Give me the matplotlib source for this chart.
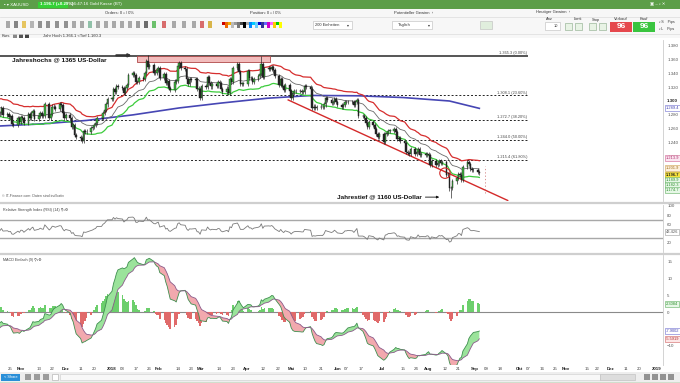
import numpy as np
import pandas as pd
import matplotlib
matplotlib.use("Agg")
import matplotlib.pyplot as plt
import matplotlib.dates as mdates
import matplotlib.transforms as mtransforms
from matplotlib.patches import Rectangle, Ellipse

plt.rcParams["font.family"] = ["Liberation Sans", "DejaVu Sans"]

# daily closes, one row per week (Mon-Fri), starting Mon 18 Sep 2017
closes = [
    1310, 1311, 1300, 1292, 1297,
    1311, 1294, 1284, 1287, 1280,
    1271, 1274, 1274, 1267, 1275,
    1286, 1292, 1288, 1294, 1303,
    1304, 1282, 1283, 1290, 1280,
    1281, 1277, 1278, 1267, 1266,
    1275, 1270, 1277, 1276, 1269,
    1281, 1275, 1282, 1286, 1274,
    1278, 1282, 1279, 1278, 1295,
    1275, 1281, 1292, 1291, 1288,
    1295, 1294, 1283, 1275, 1280,
    1275, 1262, 1265, 1251, 1248,
    1246, 1242, 1257, 1255, 1256,
    1261, 1263, 1266, 1268, 1275,
    1275, 1283, 1287, 1295, 1303,
    1303, 1317, 1313, 1322, 1320,
    1319, 1312, 1319, 1323, 1338,
    1340, 1337, 1327, 1327, 1333,
    1332, 1340, 1357, 1349, 1352,
    1341, 1340, 1345, 1348, 1333,
    1339, 1326, 1329, 1319, 1316,
    1328, 1329, 1350, 1355, 1348,
    1346, 1331, 1324, 1331, 1330,
    1332, 1318, 1317, 1305, 1322,
    1320, 1335, 1326, 1321, 1324,
    1322, 1327, 1326, 1317, 1313,
    1318, 1312, 1332, 1328, 1347,
    1353, 1342, 1325, 1325, 1325,
    1343, 1333, 1333, 1327, 1332,
    1336, 1339, 1353, 1334, 1346,
    1347, 1346, 1349, 1344, 1336,
    1323, 1332, 1322, 1316, 1323,
    1315, 1305, 1311, 1314, 1315,
    1314, 1313, 1313, 1321, 1320,
    1318, 1290, 1292, 1290, 1291,
    1292, 1291, 1295, 1304, 1302,
    1297, 1299, 1303, 1299, 1294,
    1292, 1294, 1298, 1298, 1299,
    1298, 1294, 1298, 1302, 1278,
    1278, 1275, 1269, 1262, 1270,
    1266, 1259, 1253, 1248, 1252,
    1241, 1253, 1254, 1257, 1257,
    1259, 1255, 1245, 1246, 1242,
    1240, 1227, 1225, 1224, 1231,
    1224, 1226, 1231, 1222, 1223,
    1222, 1224, 1222, 1208, 1213,
    1208, 1210, 1213, 1211, 1212,
    1193, 1194, 1174, 1175, 1184,
    1189, 1195, 1194, 1186, 1205,
    1212, 1209, 1202, 1200, 1201,
    1198, 1196.7,
]
extreme_highs = {"2018-01-25": 1366.1, "2018-04-11": 1365.3}
extreme_lows = {"2018-08-16": 1160.3}

ma200_dates = ["2017-10-18", "2017-11-15", "2017-12-15", "2018-01-15", "2018-02-15",
               "2018-03-15", "2018-04-15", "2018-05-15", "2018-06-15", "2018-07-15",
               "2018-08-15", "2018-09-04"]
ma200_vals = [1264, 1267, 1272, 1280, 1290, 1297, 1304, 1308, 1307.5, 1305, 1300, 1289.4]

fib_levels = [1365.3, 1308.1, 1272.7, 1244.0, 1215.4]
fib_pcts = ["0.00%", "23.60%", "38.20%", "50.00%", "61.80%"]

tick_dates = ["2017-10-25", "2017-11-01", "2017-11-13", "2017-11-22", "2017-12-01", "2017-12-11",
              "2017-12-20", "2018-01-01", "2018-01-08", "2018-01-17", "2018-01-26", "2018-02-01",
              "2018-02-14", "2018-02-23", "2018-03-01", "2018-03-14", "2018-03-23", "2018-04-01",
              "2018-04-12", "2018-04-22", "2018-05-01", "2018-05-10", "2018-05-21", "2018-06-01",
              "2018-06-07", "2018-06-17", "2018-07-01", "2018-07-15", "2018-07-24", "2018-08-01",
              "2018-08-12", "2018-08-21", "2018-09-01", "2018-09-09", "2018-09-18", "2018-10-01",
              "2018-10-07", "2018-10-16", "2018-10-25", "2018-11-01", "2018-11-15", "2018-11-22",
              "2018-12-01", "2018-12-11", "2018-12-20", "2019-01-01"]
tick_labels = ["25", "Nov", "13", "22", "Dez", "11", "20", "2018", "08", "17", "26", "Feb",
               "14", "23", "Mär", "14", "23", "Apr", "12", "22", "Mai", "10", "21", "Jun",
               "07", "17", "Jul", "15", "24", "Aug", "12", "21", "Sep", "09", "18", "Okt",
               "07", "16", "25", "Nov", "15", "22", "Dez", "11", "20", "2019"]

# ---- indicators -----------------------------------------------------------
dates = pd.bdate_range("2017-09-18", periods=len(closes))
s = pd.Series(closes, index=dates, dtype=float)
opens = s.shift(1).fillna(s.iloc[0])
ema20 = s.ewm(span=20, adjust=False).mean()
upper, lower = ema20 * 1.01, ema20 * 0.99
delta = s.diff()
gain = delta.clip(lower=0).ewm(alpha=1 / 14, adjust=False).mean()
loss = (-delta.clip(upper=0)).ewm(alpha=1 / 14, adjust=False).mean()
rsi = 100 - 100 / (1 + gain / loss)
macd = s.ewm(span=12, adjust=False).mean() - s.ewm(span=26, adjust=False).mean()
signal = macd.ewm(span=9, adjust=False).mean()
hist = macd - signal

x = mdates.date2num(dates)
hi = np.maximum(opens, s) + 3
lo = np.minimum(opens, s) - 3
for d, v in extreme_highs.items():
    hi[pd.Timestamp(d)] = v
for d, v in extreme_lows.items():
    lo[pd.Timestamp(d)] = v

# ---- figure ----------------------------------------------------------------
W, H = 680, 383
fig = plt.figure(figsize=(W / 100, H / 100), dpi=100)


def add_ax(x0, y0, x1, y1):
    return fig.add_axes([x0 / W, 1 - y1 / H, (x1 - x0) / W, (y1 - y0) / H])


def rect(x0, y0, x1, y1, **kw):
    fig.add_artist(Rectangle((x0 / W, 1 - y1 / H), (x1 - x0) / W, (y1 - y0) / H,
                             transform=fig.transFigure, **kw))


def ftext(xp, yp, t, **kw):
    kw.setdefault("fontsize", 3.4)
    kw.setdefault("va", "center")
    kw.setdefault("color", "#333333")
    fig.text(xp / W, 1 - yp / H, t, **kw)


def hline(y, x0=0, x1=W, **kw):
    fig.add_artist(plt.Line2D([x0 / W, x1 / W], [1 - y / H, 1 - y / H],
                              transform=fig.transFigure, **kw))


# header
rect(0, 0, 680, 9, color="#5c9e48", lw=0)
ftext(4, 4.5, "▪ ▾ XAUUSD", color="white", fontsize=3.2)
rect(38, 1.5, 68, 7.5, color="#35d235", lw=0)
ftext(40, 4.5, "1.196.7 (+0.29%)", color="white", fontsize=3.2, fontweight="bold")
ftext(71, 4.5, "16:47:16 Gold Kasse (BT)", color="white", fontsize=3.2)
ftext(665, 4.5, "▣ – ▫ ✕", color="white", fontsize=3.2, ha="right")
rect(0, 9, 680, 38, color="#f7f7f7", lw=0)
hline(16.5, color="#dddddd", lw=0.5)
hline(33.5, color="#dddddd", lw=0.5)
ftext(105, 12.5, "Orders: 0 ▫ / 0%", fontsize=3.0)
ftext(250, 12.5, "Position: 0 ▫ / 0%", fontsize=3.0)
ftext(394, 12.5, "Potentieller Gewinn  ›", fontsize=3.0)
ftext(536, 12.5, "Heutiger Gewinn  ›", fontsize=3.0)
icon_x = [6, 14, 22, 30, 38, 46, 55, 64, 72, 80, 88, 96, 104, 112, 120, 128, 136, 144, 152, 162, 172, 182, 192, 200, 208]
icon_c = ["#888", "#555", "#e0b020", "#999", "#666", "#666", "#666", "#666", "#888", "#888",
          "#6a8", "#888", "#888", "#888", "#888", "#888", "#777", "#333", "#3a3", "#c33",
          "#888", "#888", "#888", "#c33", "#c90"]
for xi, ci in zip(icon_x, icon_c):
    rect(xi, 21, xi + 4, 28, color=ci, lw=0, alpha=0.7)
pal = ["#c00", "#e60", "#ea0", "#bbb", "#999", "#777", "#444", "#000", "#aaa", "#08f",
       "#0cf", "#6cf", "#00c", "#339", "#66f", "#c0c", "#f6f", "#fc0", "#0c0", "#ff0"]
for i, c in enumerate(pal):
    rect(222 + i * 3, 22, 225 + i * 3, 25 + (i % 2) * 3, color=c, lw=0)
rect(313, 21, 352, 29, facecolor="white", edgecolor="#bbbbbb", lw=0.4)
ftext(315, 25, "200 Einheiten", fontsize=2.9)
ftext(349, 25, "▾", fontsize=2.8, ha="right")
rect(392, 21, 432, 29, facecolor="white", edgecolor="#bbbbbb", lw=0.4)
ftext(398, 25, "Täglich", fontsize=2.9)
ftext(430, 25, "▾", fontsize=2.8, ha="right")
rect(480, 21, 492, 29, facecolor="#e0eedd", edgecolor="#bbbbbb", lw=0.4)
ftext(546, 19.5, "Anz", fontsize=2.9)
rect(545, 22, 560, 30, facecolor="white", edgecolor="#bbbbbb", lw=0.4)
ftext(558, 26, "10", fontsize=2.8, ha="right")
ftext(574, 19.5, "Limit", fontsize=2.9)
ftext(592, 19.5, "Stop", fontsize=2.9)
for xi in [565, 575, 589, 599]:
    rect(xi, 23, xi + 7, 30, facecolor="#e8f3e5", edgecolor="#88aa88", lw=0.4)
ftext(614, 19.5, "Verkauf", fontsize=2.9)
ftext(640, 19.5, "Kauf", fontsize=2.9)
rect(610, 22, 632, 32, color="#e5484d", lw=0)
ftext(621, 27, "96", color="white", fontsize=6, ha="center", fontweight="bold")
rect(633, 22, 655, 32, color="#39c43f", lw=0)
ftext(644, 27, "96", color="white", fontsize=6, ha="center", fontweight="bold")
ftext(659, 22, "▫ S    Pips", fontsize=2.6)
ftext(659, 29, "▫ L    Pips", fontsize=2.6)
ftext(2, 36, "Kurs", fontsize=3.0)
rect(13, 34, 17, 38, color="#888", lw=0)
rect(19, 34, 23, 38, color="#555", lw=0)
rect(25, 34, 29, 38, color="#444", lw=0)
ftext(43, 36, "Jahr Hoch 1.366.1 <Tief 1.160.3", fontsize=3.0)

# ---- panels ----------------------------------------------------------------
ax = add_ax(0, 40, 663, 201)
ax_rsi = add_ax(0, 205, 663, 252)
ax_macd = add_ax(0, 255, 663, 365)
x_left = mdates.date2num(pd.Timestamp("2017-10-18"))
x_right = mdates.date2num(pd.Timestamp("2019-01-05"))

for a in (ax, ax_rsi, ax_macd):
    a.set_xlim(x_left, x_right)
    a.set_facecolor("white")
    for sp in ("top", "left", "bottom"):
        a.spines[sp].set_visible(False)
    a.spines["right"].set_color("#cccccc")
    a.spines["right"].set_linewidth(0.6)
    a.yaxis.tick_right()
    a.tick_params(axis="y", labelsize=3.2, length=0, pad=3, colors="#555555")
    a.tick_params(axis="x", length=0)
    a.set_xticks([])

hline(202.5, color="#cfcfcf", lw=1.6)
hline(253.5, color="#cfcfcf", lw=1.6)

# price panel
ax.set_ylim(1155.9, 1387.9)
ax.set_yticks(range(1220, 1381, 20))
ax.set_yticklabels([f"{v / 1000:.3f}" for v in range(1220, 1381, 20)])
for lab in ax.get_yticklabels():
    if lab.get_text() == "1.300":
        lab.set_fontweight("bold")
        lab.set_color("#222222")

fib_end = mdates.date2num(pd.Timestamp("2018-10-06"))
for lvl, pct in zip(fib_levels, fib_pcts):
    if pct == "0.00%":
        ax.plot([x_left, fib_end], [lvl, lvl], color="#555555", lw=1.4, zorder=1)
    else:
        ax.plot([x_left, fib_end], [lvl, lvl], color="#222222", lw=0.7, ls=(0, (2, 2)), zorder=1)
    ax.text(fib_end, lvl + 1.2, f"{lvl:,.1f}".replace(",", ".") + f" ({pct})",
            fontsize=2.8, color="#444444", ha="right", va="bottom")

ax.add_patch(Rectangle((mdates.date2num(pd.Timestamp("2018-01-18")), 1356.7),
                       88.5, 8.6, facecolor="#f2bcbc", edgecolor="#b04848", lw=0.6, zorder=2))

ma_x = mdates.date2num(pd.to_datetime(ma200_dates))
ax.plot(ma_x, ma200_vals, color="#4646b4", lw=1.2, zorder=3)
ax.plot(x, upper, color="#d62e2e", lw=0.9, zorder=3)
ax.plot(x, ema20, color="#6a6a6a", lw=0.6, zorder=3)
ax.plot(x, lower, color="#3ccc3c", lw=0.9, zorder=3)

up = s >= opens
body_lo = np.minimum(opens, s)
body_h = np.maximum(np.abs(s - opens), 0.8)
ax.vlines(x, lo, hi, color="#1a1a1a", lw=0.45, zorder=4)
ax.bar(x[up.values], body_h[up.values], bottom=body_lo[up.values], width=1.1,
       color="#3fb83f", edgecolor="#1a1a1a", lw=0.3, zorder=5)
ax.bar(x[~up.values], body_h[~up.values], bottom=body_lo[~up.values], width=1.1,
       color="#262626", edgecolor="#1a1a1a", lw=0.3, zorder=5)

# trend line and markers
tl_x = mdates.date2num(pd.to_datetime(["2018-04-29", "2018-09-23"]))
ax.plot(tl_x, [1301.5, 1156.7], color="#d42a2a", lw=1.0, zorder=3)
ax.add_patch(Ellipse((mdates.date2num(pd.Timestamp("2018-08-12")), 1196), 7, 15,
                     facecolor="none", edgecolor="#d42a2a", lw=0.8, zorder=6))
ax.plot([mdates.date2num(pd.Timestamp("2018-09-08"))] * 2, [1168, 1206],
        color="#d08080", lw=0.6, ls=(0, (1.5, 2.5)), zorder=3)

ax.text(mdates.date2num(pd.Timestamp("2017-10-26")), 1363.2, "Jahreshochs @ 1365 US-Dollar",
        fontsize=4.6, fontweight="bold", color="#111111", va="top")
ax.annotate("", xy=(mdates.date2num(pd.Timestamp("2018-01-16")), 1365.8),
            xytext=(mdates.date2num(pd.Timestamp("2018-01-02")), 1365.8),
            arrowprops=dict(arrowstyle="-|>", color="#333333", lw=1.6, mutation_scale=3.5))
ax.text(mdates.date2num(pd.Timestamp("2018-06-01")), 1161.5, "Jahrestief @ 1160 US-Dollar",
        fontsize=4.6, fontweight="bold", color="#111111", va="center")
ax.annotate("", xy=(mdates.date2num(pd.Timestamp("2018-08-10")), 1161.5),
            xytext=(mdates.date2num(pd.Timestamp("2018-07-28")), 1161.5),
            arrowprops=dict(arrowstyle="-|>", color="#111111", lw=0.6, mutation_scale=3.5))
ax.text(0.003, 0.02, "© IT-Finance.com: Daten sind indikativ", transform=ax.transAxes,
        fontsize=2.6, color="#555555", va="bottom")

tr = mtransforms.blended_transform_factory(ax.transAxes, ax.transData)


def value_box(a, trans, y, txt, fc, ec, tc="#333333", bold=False):
    a.text(1.004, y, txt, transform=trans, fontsize=2.9, color=tc, va="center", ha="left",
           fontweight="bold" if bold else "normal", clip_on=False,
           bbox=dict(boxstyle="square,pad=0.25", fc=fc, ec=ec, lw=0.4))


def fmt(v):
    return f"{v:,.1f}".replace(",", ".")


value_box(ax, tr, ma200_vals[-1], fmt(ma200_vals[-1]), "white", "#6b6bd0", "#4646b4")
value_box(ax, tr, upper.iloc[-1] + 4, fmt(upper.iloc[-1]), "#fbe6f0", "#d06090", "#b03070")
value_box(ax, tr, ema20.iloc[-1] + 1, fmt(ema20.iloc[-1]), "#fdf0dc", "#d0a050", "#a07020")
value_box(ax, tr, s.iloc[-1] - 4, fmt(s.iloc[-1]), "#f6e23c", "#c0a000", "#222222", bold=True)
value_box(ax, tr, lower.iloc[-1] - 4, fmt(lower.iloc[-1]), "#e6f7e6", "#60b060", "#2f8f2f")
value_box(ax, tr, lower.iloc[-1] - 11, fmt(ma200_vals[-1] - 107.1), "#e6f7e6", "#60b060", "#2f8f2f")
value_box(ax, tr, lower.iloc[-1] - 18, fmt(extreme_lows["2018-08-16"] + 14.4), "#e6f7e6", "#60b060", "#2f8f2f")

# RSI panel
ax_rsi.set_ylim(-1.6, 102.2)
ax_rsi.set_yticks([100, 80, 60, 20])
for lvl in (70, 30):
    ax_rsi.axhline(lvl, color="#a8a8a8", lw=1.0)
ax_rsi.plot(x, rsi, color="#7a7a7a", lw=0.6)
ax_rsi.text(0.004, 0.93, "Relative Strength Index (RSI) (14) ⚲▫⚙", transform=ax_rsi.transAxes,
            fontsize=2.7, color="#444444", va="top")
tr_rsi = mtransforms.blended_transform_factory(ax_rsi.transAxes, ax_rsi.transData)
value_box(ax_rsi, tr_rsi, rsi.iloc[-1], f"{rsi.iloc[-1]:.3f}", "white", "#999999", "#555555")

# MACD panel
ax_macd.set_ylim(-15.6, 16.8)
ax_macd.set_yticks([15, 10, 5, 0, -10])
ax_macd.axhline(0, color="#8a8a8a", lw=0.8, zorder=1)
pos = hist.values >= 0
ax_macd.bar(x[pos], hist.values[pos], width=1.0, color="#6ccf6c", lw=0, zorder=2)
ax_macd.bar(x[~pos], hist.values[~pos], width=1.0, color="#e06a6a", lw=0, zorder=2)
ax_macd.fill_between(x, macd, signal, where=macd >= signal, interpolate=True,
                     color="#9be39b", lw=0, zorder=3)
ax_macd.fill_between(x, macd, signal, where=macd < signal, interpolate=True,
                     color="#f2a9ae", lw=0, zorder=3)
ax_macd.plot(x, macd, color="#3f8f4f", lw=0.6, zorder=4)
ax_macd.plot(x, signal, color="#8a5a8a", lw=0.6, zorder=4)
ax_macd.text(0.004, 0.975, "MACD Einfach (9) ⚲▫⚙", transform=ax_macd.transAxes,
             fontsize=2.7, color="#444444", va="top")
tr_m = mtransforms.blended_transform_factory(ax_macd.transAxes, ax_macd.transData)
box_top = max(macd.iloc[-1], signal.iloc[-1])
value_box(ax_macd, tr_m, hist.iloc[-1], f"{hist.iloc[-1]:.4f}", "#e6f7e6", "#60b060", "#2f8f2f")
value_box(ax_macd, tr_m, box_top, f"{signal.iloc[-1]:.4f}", "white", "#6b6bd0", "#4646b4")
value_box(ax_macd, tr_m, box_top - 2.4, f"{macd.iloc[-1]:.4f}", "#fde6e6", "#d06060", "#b03030")

bold_names = {"Nov", "Dez", "2018", "Feb", "Mär", "Apr", "Mai", "Jun", "Jul", "Aug", "Sep", "Okt", "2019"}
ax_macd.set_xticks(mdates.date2num(pd.to_datetime(tick_dates)))
ax_macd.set_xticklabels(tick_labels)
ax_macd.tick_params(axis="x", labelsize=3.2, pad=1.5, colors="#444444")
for lab in ax_macd.get_xticklabels():
    if lab.get_text() in bold_names:
        lab.set_fontweight("bold")
        lab.set_color("#222222")

# bottom bar
rect(0, 372, 680, 383, color="#eeeeee", lw=0)
rect(1, 373.5, 20, 380.5, color="#2a8fd8", lw=0)
ftext(10.5, 377, "< Share", color="white", fontsize=2.8, ha="center")
for xi in [25, 34, 43]:
    rect(xi, 374, xi + 6, 380, color="#666666", lw=0, alpha=0.6)
rect(52, 374, 58, 380, facecolor="white", edgecolor="#aaaaaa", lw=0.4)
rect(60, 374, 600, 380, facecolor="#f8f8f8", edgecolor="#cccccc", lw=0.4)
rect(600, 374, 635, 380, facecolor="#dddddd", edgecolor="#bbbbbb", lw=0.4)
for xi in [644, 652, 660, 668]:
    rect(xi, 374, xi + 6, 380, color="#555555", lw=0, alpha=0.6)
hline(382.5, color="#5c9e48", lw=1.0)

fig.savefig("out.png", dpi=100)
